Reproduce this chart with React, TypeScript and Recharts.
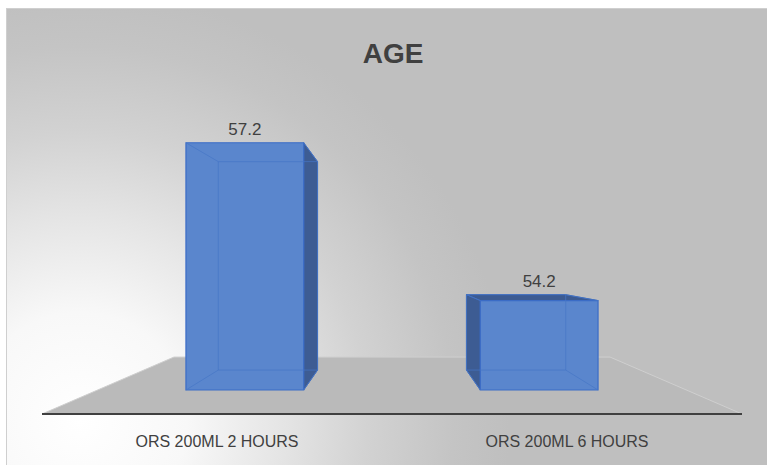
import React from "react";
import { BarChart, Bar, XAxis, YAxis, LabelList } from "recharts";

const categories = ["ORS 200ML 2 HOURS", "ORS 200ML 6 HOURS"];
const ageValues = [57.2, 54.2];
const yDomain = [52.5, 58];

const data = categories.map((name, i) => ({ name, age: ageValues[i] }));

const W = 767;
const H = 465;
const margin = { top: 70, right: 25, bottom: 21, left: 42 };
const xAxisHeight = 30;
const floorY = H - margin.bottom - xAxisHeight; // front edge of the floor
const vpX = (margin.left + W - margin.right) / 2;
const vpY = floorY - 151;
const frontDepth = 0.841;
const backDepth = 0.709;
const floorBackDepth = 0.623;

const font = "'Liberation Sans', Arial, sans-serif";
const textColor = "#404040";

// perspective: shrink towards the vanishing point by depth factor s
const project = (x: number, y: number, s: number): number[] => [
  vpX + (x - vpX) * s,
  vpY + (y - vpY) * s,
];

const path = (arr: number[][]) =>
  arr.map((p, i) => `${i === 0 ? "M" : "L"}${p[0]},${p[1]}`).join(" ") + " Z";

const Box3D = (props: any) => {
  const { x, y, width, height } = props;
  if (width == null || height == null) return null;
  const x0 = x;
  const x1 = x + width;
  const y0 = y;
  const y1 = y + height;
  const F = [
    project(x0, y0, frontDepth),
    project(x1, y0, frontDepth),
    project(x1, y1, frontDepth),
    project(x0, y1, frontDepth),
  ];
  const B = [
    project(x0, y0, backDepth),
    project(x1, y0, backDepth),
    project(x1, y1, backDepth),
    project(x0, y1, backDepth),
  ];
  const leftVisible = x + width / 2 > vpX;
  const sideFace = leftVisible ? [B[0], F[0], F[3], B[3]] : [F[1], B[1], B[2], F[2]];
  const topVisible = y0 > vpY;
  const topFace = [B[0], B[1], F[1], F[0]];
  const inner = "#4676c6";
  return (
    <g>
      {topVisible && (
        <path d={path(topFace)} fill="#3c5b92" stroke="#3a66b8" strokeWidth={1} />
      )}
      <path d={path(sideFace)} fill="#3d5c93" stroke="#3a66b8" strokeWidth={1} />
      <path d={path(F)} fill="#5a86cd" stroke="#3b6cc6" strokeWidth={1.2} />
      <path d={path(B)} fill="none" stroke={inner} strokeOpacity={0.7} strokeWidth={1} />
      {[0, 1, 2, 3].map((i) => (
        <line
          key={i}
          x1={F[i][0]}
          y1={F[i][1]}
          x2={B[i][0]}
          y2={B[i][1]}
          stroke={inner}
          strokeOpacity={0.7}
          strokeWidth={1}
        />
      ))}
    </g>
  );
};

const ValueLabel = (props: any) => {
  const vb = props.viewBox || {};
  const x = props.x ?? vb.x;
  const y = props.y ?? vb.y;
  const width = props.width ?? vb.width;
  const cx = x + width / 2;
  const [fx, fy] = project(cx, y, frontDepth);
  const [, by] = project(cx, y, backDepth);
  return (
    <text
      x={fx}
      y={Math.min(fy, by) - 8}
      textAnchor="middle"
      fontSize={17}
      fontFamily={font}
      fill={textColor}
    >
      {props.value}
    </text>
  );
};

const Backdrop = () => {
  const left = margin.left;
  const right = W - margin.right;
  const floor = [
    project(left, floorY, 1),
    project(right, floorY, 1),
    project(right, floorY, floorBackDepth),
    project(left, floorY, floorBackDepth),
  ];
  return (
    <svg width={W} height={H} style={{ position: "absolute", left: 0, top: 0 }}>
      <defs>
        <radialGradient id="bg" gradientUnits="userSpaceOnUse" cx={80} cy={420} r={430}>
          <stop offset="0" stopColor="#ffffff" />
          <stop offset="0.25" stopColor="#f8f8f8" />
          <stop offset="0.48" stopColor="#e4e4e4" />
          <stop offset="0.67" stopColor="#d2d2d2" />
          <stop offset="0.87" stopColor="#c4c4c4" />
          <stop offset="1" stopColor="#bfbfbf" />
        </radialGradient>
      </defs>
      <rect x={0} y={0} width={W} height={H} fill="#ffffff" />
      <rect x={6.5} y={8.5} width={W} height={H} fill="url(#bg)" stroke="#cfcfcf" />
      <path d={path(floor)} fill="#bababa" stroke="#cfcfcf" strokeWidth={1} />
      <text
        x={vpX + 1}
        y={63}
        textAnchor="middle"
        fontSize={28}
        fontWeight="bold"
        fontFamily={font}
        fill={textColor}
      >
        AGE
      </text>
    </svg>
  );
};

export default function App() {
  return (
    <div style={{ position: "absolute", left: 0, top: 0, width: W, height: H }}>
      <Backdrop />
      <div style={{ position: "absolute", left: 0, top: 0 }}>
        <BarChart width={W} height={H} data={data} margin={margin} barCategoryGap="30%">
          <XAxis
            dataKey="name"
            height={xAxisHeight}
            interval={0}
            tickLine={false}
            tickMargin={16}
            axisLine={{ stroke: "#404040", strokeWidth: 2 }}
            tick={{ fill: textColor, fontSize: 16, fontFamily: font }}
          />
          <YAxis hide domain={yDomain} allowDataOverflow />
          <Bar dataKey="age" shape={<Box3D />} isAnimationActive={false}>
            <LabelList dataKey="age" content={<ValueLabel />} />
          </Bar>
        </BarChart>
      </div>
    </div>
  );
}
